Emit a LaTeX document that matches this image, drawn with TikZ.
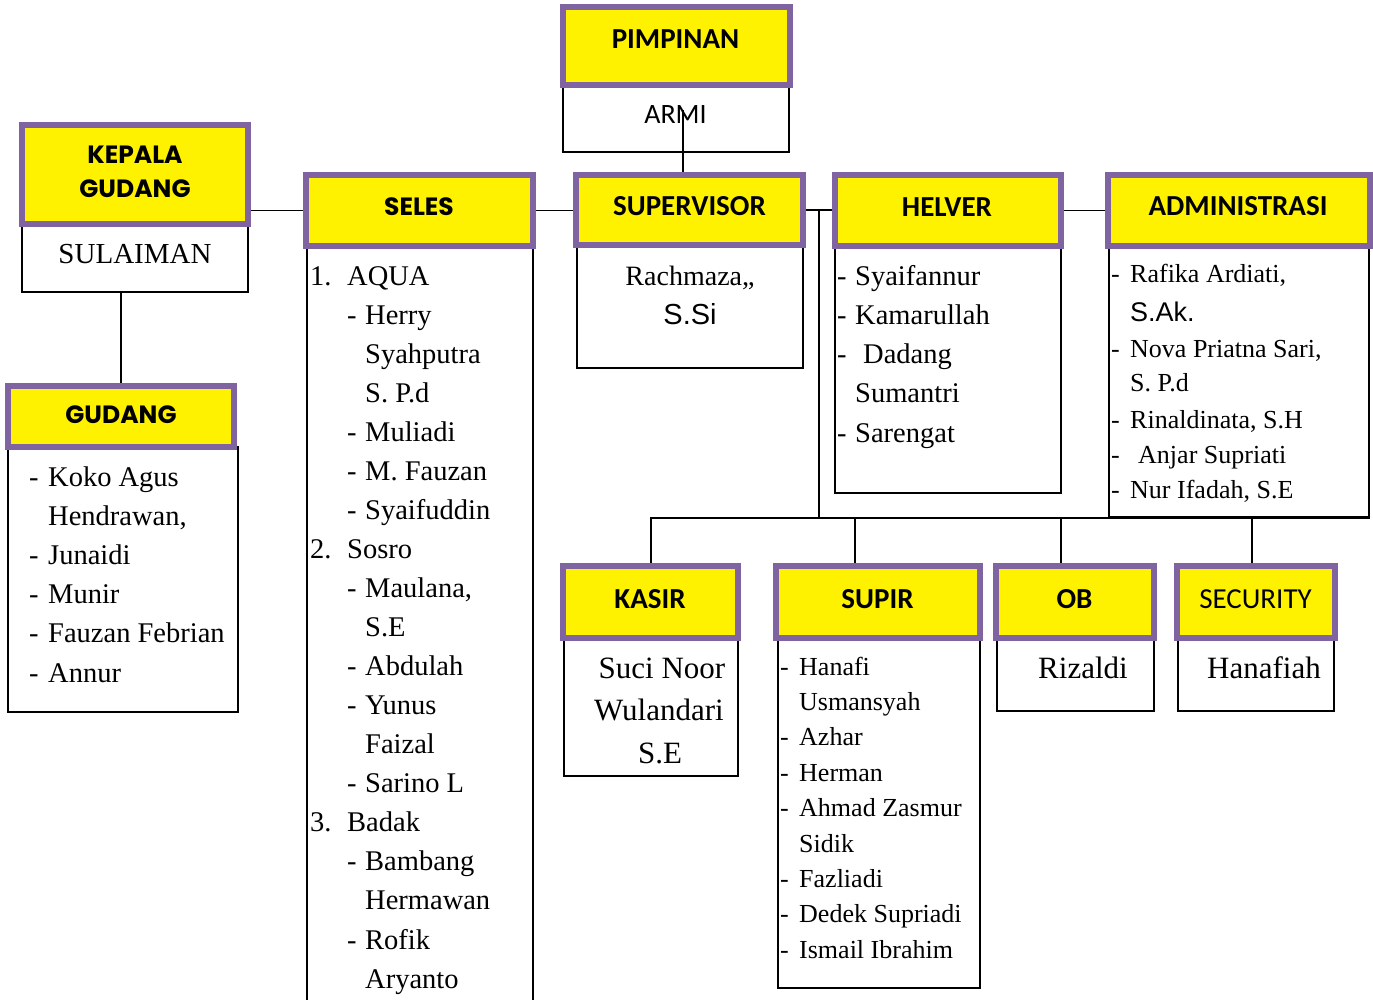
\documentclass[tikz,border=0pt]{standalone}
\usepackage{fontspec}
\setmainfont{Liberation Serif}
\newfontfamily\calfont{Carlito}
\newfontfamily\arialfont{Liberation Sans}
\newfontfamily\heavyfont{Poppins}
\newcommand\fsz[1]{\fontsize{#1}{#1}\selectfont}
\definecolor{hpurple}{HTML}{8064A2}
\newcommand\mkbox[6]{\node[#1, minimum width={#5-#3}, minimum height={#6-#4}] (#2) at ({(#3+#5)/2},{(#4+#6)/2}) {};}
\tikzset{
  hdr/.style={draw=hpurple, fill=yellow, line width=6pt, inner sep=0pt, rectangle},
  bodybox/.style={draw=black, fill=white, line width=1.8pt, inner sep=0pt, rectangle},
  conn/.style={draw=black, line width=1.8pt},
  lbl/.style={inner sep=0pt, anchor=base},
  lblw/.style={inner sep=0pt, anchor=base west},
  hfont/.style={font=\calfont\bfseries\fsz{29}},
  kfont/.style={font=\heavyfont\bfseries\fsz{25}},
}
\begin{document}
\begin{tikzpicture}[x=1pt,y=-1pt]
\useasboundingbox (0,0) rectangle (1373,999);
% ---- body boxes ----
\mkbox{bodybox}{armiB}{563}{86}{789}{152}
\mkbox{bodybox}{sulB}{22}{224}{248}{292}
\mkbox{bodybox}{gudB}{8}{447}{238}{712}
\mkbox{bodybox}{selB}{307}{247}{533}{1010}
\mkbox{bodybox}{svB}{577}{247}{803}{368}
\mkbox{bodybox}{helB}{835}{247}{1061}{493}
\mkbox{bodybox}{admB}{1109}{247}{1369}{517}
\mkbox{bodybox}{kasB}{564}{638}{738}{776}
\mkbox{bodybox}{supB}{778}{638}{980}{988}
\mkbox{bodybox}{obB}{997}{638}{1154}{711}
\mkbox{bodybox}{secB}{1178}{638}{1334}{711}
% ---- connectors ----
\coordinate (armiTop) at (683,110);
\draw[conn] (armiTop) -- (armiTop |- 0,172);
\draw[conn] (sulB.south -| 121,0) -- (121,383);
\coordinate (j1) at (819,210);
\draw[conn] (j1) -- (j1 |- admB.south);
\draw[conn] (651,563) |- (admB.south east);
\coordinate (d2) at (855,517);
\coordinate (d3) at (1061,517);
\coordinate (d4) at (1252,517);
\draw[conn] (d2) -- (855,563);
\draw[conn] (d3) -- (1061,563);
\draw[conn] (d4) -- (1252,563);
% ---- headers ----
\mkbox{hdr}{pimH}{563}{7}{790}{85}
\mkbox{hdr}{kgH}{22}{125}{248}{224}
\mkbox{hdr}{selH}{306}{175}{533}{246}
\mkbox{hdr}{svH}{576}{175}{803}{245}
\mkbox{hdr}{helH}{835}{175}{1061}{246}
\mkbox{hdr}{admH}{1108}{175}{1370}{246}
\mkbox{hdr}{gudH}{8}{386}{234}{447}
\mkbox{hdr}{kasH}{563}{566}{738}{638}
\mkbox{hdr}{supH}{776}{566}{980}{638}
\mkbox{hdr}{obH}{996}{566}{1154}{638}
\mkbox{hdr}{secH}{1177}{566}{1335}{638}
\draw[conn] (kgH.east |- selH.west) -- (selH.west);
\draw[conn] (selH.east) -- (selH.east -| svH.west);
\draw[conn] (svH.east) -- (svH.east -| helH.west);
\draw[conn] (helH.east) -- (helH.east -| admH.west);
\draw[conn] (j1) -- (j1 -| helH.west);
% ---- header labels ----
\node[lbl, hfont] (pimT) at (675.5,48) {PIMPINAN};
\node[lbl, hfont] (svT) at (689.5,215) {SUPERVISOR};
\node[lbl, hfont] (helT) at (947,216) {HELVER};
\node[lbl, hfont] (admT) at (1238,215) {ADMINISTRASI};
\node[lbl, hfont] (kasT) at (650,608) {KASIR};
\node[lbl, hfont] (supT) at (877.5,608) {SUPIR};
\node[lbl, hfont] (obT) at (1074.5,608) {OB};
\node[lbl, font=\calfont\fsz{29}] (secT) at (1255.5,608) {SECURITY};
\node[lbl, kfont] (kgT1) at (135,163) {KEPALA};
\node[lbl, kfont] (kgT2) at (135,197) {GUDANG};
\node[lbl, kfont] (selT) at (419,215) {SELES};
\node[lbl, kfont] (gudT) at (121,423) {GUDANG};
% ---- body texts ----
\node[lbl, font=\calfont\fsz{28}] (armiT) at (675.5,123) {ARMI};
\node[lbl, font=\fsz{29}] (sulT) at (135,263) {SULAIMAN};
\node[lbl, font=\fsz{28}] (svT1) at (690,285) {Rachmaza,,};
\node[lbl, font=\arialfont\fsz{29}] (svT2) at (690,324) {S.Si};
% SELES list
\foreach \mx/\m/\tx/\t [count=\i] in {310/1./347/AQUA, 347/-/365/Herry, 0//365/Syahputra, 0//365/S. P.d, 347/-/365/Muliadi, 347/-/365/M. Fauzan, 347/-/365/Syaifuddin, 310/2./347/Sosro, 347/-/365/{Maulana,}, 0//365/S.E, 347/-/365/Abdulah, 347/-/365/Yunus, 0//365/Faizal, 347/-/365/Sarino L, 310/3./347/Badak, 347/-/365/Bambang, 0//365/Hermawan, 347/-/365/Rofik, 0//365/Aryanto}{
  \ifx\m\empty\else
    \node[lblw, font=\fsz{28.5}] (selm\i) at (\mx,{285+39.06*(\i-1)}) {\m};
  \fi
  \node[lblw, font=\fsz{28.5}] (selt\i) at (\tx,{285+39.06*(\i-1)}) {\t};
}
% GUDANG list
\foreach \mx/\m/\tx/\t [count=\i] in {29/-/48/Koko Agus, 0//48/{Hendrawan,}, 29/-/48/Junaidi, 29/-/48/Munir, 29/-/48/Fauzan Febrian, 29/-/48/Annur}{
  \ifx\m\empty\else
    \node[lblw, font=\fsz{28.5}] (gudm\i) at (\mx,{486+39.2*(\i-1)}) {\m};
  \fi
  \node[lblw, font=\fsz{28.5}] (gudt\i) at (\tx,{486+39.2*(\i-1)}) {\t};
}
% HELVER list
\foreach \mx/\m/\tx/\t [count=\i] in {837/-/855/Syaifannur, 837/-/855/Kamarullah, 837/-/863/Dadang, 0//855/Sumantri, 837/-/855/Sarengat}{
  \ifx\m\empty\else
    \node[lblw, font=\fsz{28.5}] (helm\i) at (\mx,{285+39.3*(\i-1)}) {\m};
  \fi
  \node[lblw, font=\fsz{28.5}] (helt\i) at (\tx,{285+39.3*(\i-1)}) {\t};
}
% ADMINISTRASI list
\foreach \y/\mx/\m/\tx/\t [count=\i] in {282/1111/-/1130/{Rafika Ardiati,}, 357/1111/-/1130/{Nova Priatna Sari,}, 391/0//1130/S. P.d, 428/1111/-/1130/{Rinaldinata, S.H}, 463/1111/-/1138/Anjar Supriati, 498/1111/-/1130/{Nur Ifadah, S.E}}{
  \ifx\m\empty\else
    \node[lblw, font=\fsz{26}] (admm\i) at (\mx,\y) {\m};
  \fi
  \node[lblw, font=\fsz{26}] (admt\i) at (\tx,\y) {\t};
}
\node[lblw, font=\arialfont\fsz{27}] (admSAk) at (1130,321) {S.Ak.};
% SUPIR list
\foreach \m/\t [count=\i] in {-/Hanafi, /Usmansyah, -/Azhar, -/Herman, -/Ahmad Zasmur, /Sidik, -/Fazliadi, -/Dedek Supriadi, -/Ismail Ibrahim}{
  \ifx\m\empty\else
    \node[lblw, font=\fsz{26}] (supm\i) at (780,{675+35.4*(\i-1)}) {\m};
  \fi
  \node[lblw, font=\fsz{26}] (supt\i) at (799,{675+35.4*(\i-1)}) {\t};
}
% KASIR
\node[lbl, font=\fsz{31}] (kasT1) at (662,678) {Suci Noor};
\node[lbl, font=\fsz{31}] (kasT2) at (659,720) {Wulandari};
\node[lbl, font=\fsz{31}] (kasT3) at (660,763) {S.E};
% OB / SECURITY
\node[lblw, font=\fsz{31}] (obT1) at (1038,678) {Rizaldi};
\node[lblw, font=\fsz{31}] (secT1) at (1207,678) {Hanafiah};
\end{tikzpicture}
\end{document}
